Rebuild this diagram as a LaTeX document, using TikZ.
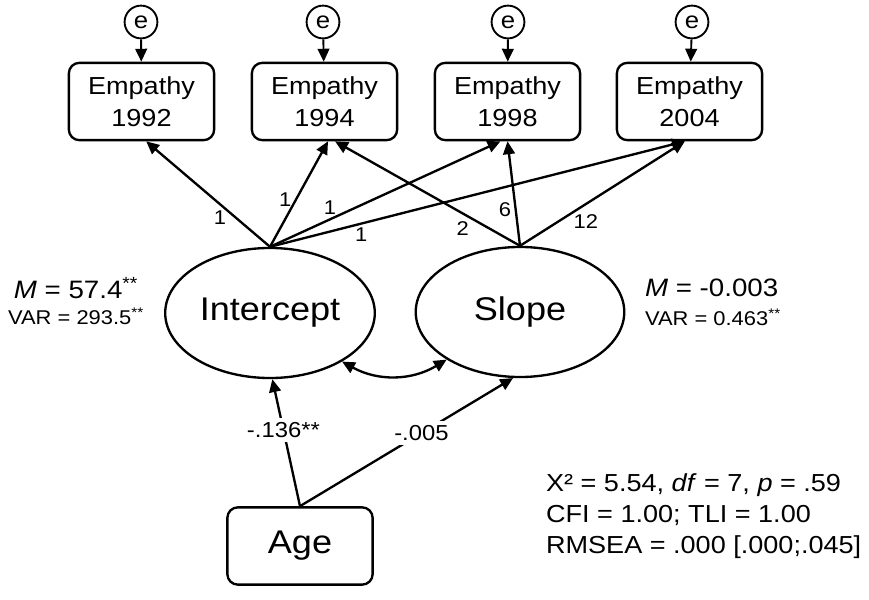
\documentclass[tikz,border=0pt]{standalone}
\usepackage{fontspec}
\setmainfont{Liberation Sans}[FakeStretch=1.1]
\usetikzlibrary{arrows.meta,shapes.geometric}

\begin{document}
\begin{tikzpicture}[x=.03cm, y=-.03cm, line width=2pt,
    >={Triangle[length=11pt,width=10pt]},
    obs/.style={draw, rounded corners=9pt, minimum width=124pt, minimum height=66pt,
      align=center, font=\fontsize{21}{27}\selectfont},
    lat/.style={ellipse, draw, minimum width=178pt, minimum height=111pt,
      font=\fontsize{28}{30}\selectfont},
    err/.style={circle, draw, line width=1.6pt, minimum size=28pt, inner sep=0pt,
      font=\fontsize{20}{20}\selectfont},
    coef/.style={font=\fontsize{17}{17}\selectfont, inner sep=3pt},
    agecoef/.style={font=\fontsize{18.5}{18.5}\selectfont, fill=white, inner sep=4pt}]
 \useasboundingbox (0,0) rectangle (869,600);
 % observed scores and their errors
 \node (y92) [obs] at (141.5,101.5) {Empathy\\1992};
 \node (y94) [obs] at (324.5,101.5) {Empathy\\1994};
 \node (y98) [obs] at (507.5,101.5) {Empathy\\1998};
 \node (y04) [obs] at (689.5,101.5) {Empathy\\2004};
 \node (e92) [err] at (141,22) {e};
 \node (e94) [err] at (323,22) {e};
 \node (e98) [err] at (508,22) {e};
 \node (e04) [err] at (692,22) {e};
 \draw [->, line width=1.6pt] (e92) -- (y92);
 \draw [->, line width=1.6pt] (e94) -- (y94);
 \draw [->, line width=1.6pt] (e98) -- (y98);
 \draw [->, line width=1.6pt] (e04) -- (y04);
 % growth factors
 \node (int) [lat] at (270,313) {Intercept};
 \node (slo) [lat] at (520,312) {Slope};
 \node (age) [obs, font=\fontsize{28}{30}\selectfont] at (300,546) {Age};
 \draw [->] (int.north) -- node[coef, pos=.28, left=4pt] {1} ([xshift=4pt]y92.south);
 \draw [->] (int.north) -- node[coef, pos=.45, left] {1} ([xshift=3pt]y94.south);
 \draw [->] (int.north) -- node[coef, pos=.26, above] {1} ([xshift=-6pt]y98.south);
 \draw [->] (int.north) -- node[coef, pos=.22, below] {1} ([xshift=-4pt]y04.south);
 \draw [->] (slo.north) -- node[coef, pos=.31, below=3pt] {2} ([xshift=9pt]y94.south);
 \draw [->] (slo.north) -- node[coef, pos=.35, left] {6} (y98.south);
 \draw [->] (slo.north) -- node[coef, pos=.4, below=5pt] {12} ([xshift=-4pt]y04.south);
 \draw [<->] (int.-34) to[bend right=30] (slo.213);
 \draw [->] (age.north) -- node[agecoef, pos=.6] {-.136**} ([xshift=2pt]int.south);
 \draw [->] (age.north) -- node[agecoef, pos=.57] {-.005} (slo.-96);
 % means and variances
 \node (mi) [font=\fontsize{21.5}{21.5}\selectfont] at (76,288) {\textit{M} = 57.4\textsuperscript{**}};
 \node (vi) [font=\fontsize{17}{17}\selectfont] at (76,316) {VAR = 293.5\textsuperscript{**}};
 \node (ms) [anchor=west, font=\fontsize{21.5}{21.5}\selectfont] at (640,288) {\textit{M} = -0.003};
 \node (vs) [anchor=west, font=\fontsize{17}{17}\selectfont] at (640,317) {VAR = 0.463\textsuperscript{**}};
 % model fit
 \node (fit) [anchor=west, align=left, font=\fontsize{21}{26.5}\selectfont] at (541,516)
   {X² = 5.54, \textit{df} = 7, \textit{p} = .59\\CFI = 1.00; TLI = 1.00\\RMSEA = .000 [.000;.045]};
\end{tikzpicture}
\end{document}
